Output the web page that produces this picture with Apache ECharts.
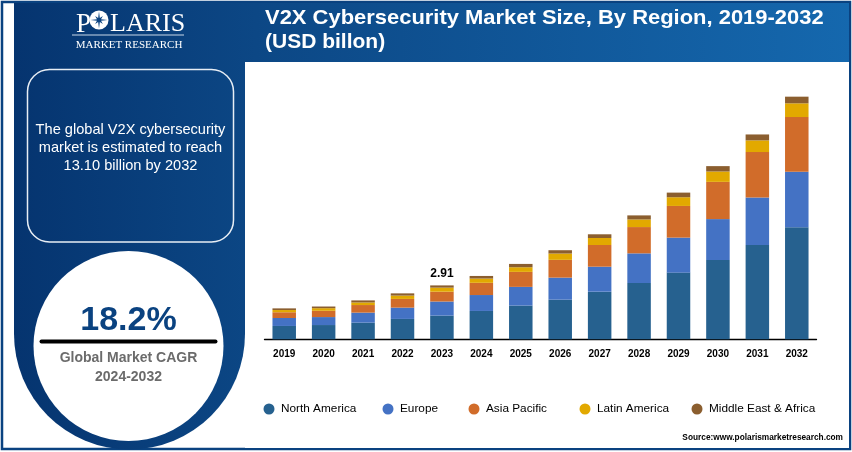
<!DOCTYPE html>
<html>
<head>
<meta charset="utf-8">
<style>
html, body { margin: 0; padding: 0; background: #fff; }
#main { width: 852px; height: 452px; }
</style>
<script src="https://cdn.jsdelivr.net/npm/echarts@6/dist/echarts.min.js"></script>
</head>
<body>
<div id="main"></div>
<script>
var years = ['2019', '2020', '2021', '2022', '2023', '2024', '2025', '2026', '2027', '2028', '2029', '2030', '2031', '2032'];
var northAmerica = [0.72, 0.77, 0.90, 1.10, 1.28, 1.53, 1.82, 2.14, 2.57, 3.04, 3.60, 4.28, 5.09, 6.05];
var europe = [0.43, 0.43, 0.54, 0.61, 0.76, 0.86, 1.01, 1.19, 1.35, 1.60, 1.89, 2.21, 2.57, 3.00];
var asiaPacific = [0.31, 0.34, 0.41, 0.47, 0.53, 0.66, 0.81, 0.96, 1.17, 1.42, 1.71, 2.01, 2.45, 2.95];
var latinAmerica = [0.12, 0.14, 0.14, 0.18, 0.22, 0.23, 0.25, 0.34, 0.38, 0.41, 0.47, 0.56, 0.63, 0.74];
var middleEast = [0.09, 0.09, 0.11, 0.12, 0.12, 0.14, 0.18, 0.18, 0.20, 0.22, 0.25, 0.29, 0.32, 0.36];
var seriesNames = ['North America', 'Europe', 'Asia Pacific', 'Latin America', 'Middle East & Africa'];
var seriesValues = [northAmerica, europe, asiaPacific, latinAmerica, middleEast];
var seriesColors = ['#26618f', '#4472c4', '#d16c2a', '#e2a900', '#8b5e2f'];
var legendLefts = [263.5, 382.5, 468.5, 579.5, 691.5];
var labelYear = '2023';
var labelText = '2.91';

var chart = echarts.init(document.getElementById('main'));
var LinearGradient = echarts.graphic.LinearGradient;
var sansFont = '"Liberation Sans", Arial, sans-serif';
var serifFont = '"Liberation Serif", "Times New Roman", serif';

// same left to right blue over the side panel and the header
var blue = new LinearGradient(0, 0, 852, 0, [
    { offset: 0, color: '#05336e' },
    { offset: 0.3, color: '#0c4785' },
    { offset: 1, color: '#1568ae' }
], true);

var series = [];
for (var i = 0; i < seriesNames.length; i++) {
    series.push({
        name: seriesNames[i],
        type: 'bar',
        stack: 'total',
        barWidth: 23.5,
        itemStyle: { color: seriesColors[i] },
        data: seriesValues[i].slice()
    });
}
// only one bar carries a total label
var labelIndex = years.indexOf(labelYear);
series[4].data[labelIndex] = {
    value: middleEast[labelIndex],
    label: {
        show: true,
        position: 'top',
        distance: 6,
        formatter: labelText,
        color: '#000',
        fontFamily: sansFont,
        fontWeight: 'bold',
        fontSize: 12
    }
};

var legends = [];
for (var j = 0; j < seriesNames.length; j++) {
    legends.push({
        data: [{ name: seriesNames[j], icon: 'circle' }],
        left: legendLefts[j],
        top: 403,
        itemWidth: 11,
        itemHeight: 11,
        itemGap: 0,
        selectedMode: false,
        padding: 0,
        textStyle: { color: '#000', fontFamily: sansFont, fontSize: 11.8, padding: [0, 0, 0, 1.5] }
    });
}

// compass star inside the logo O
var starPoints = [];
for (var k = 0; k < 16; k++) {
    var r = k % 4 == 0 ? 8.5 : (k % 2 == 0 ? 5.5 : 2.2);
    var a = k * Math.PI / 8;
    starPoints.push([99 + r * Math.sin(a), 20 - r * Math.cos(a)]);
}

var graphics = [
    // outer frame
    { type: 'rect', silent: true, z: -10, shape: { x: 2, y: 2, width: 848, height: 447 },
      style: { fill: '#fff', stroke: '#0a4280', lineWidth: 2.5 } },
    // header band
    { type: 'rect', silent: true, z: -9, shape: { x: 240, y: 3, width: 609, height: 59 }, style: { fill: blue } },
    // side panel with round bottom
    { type: 'rect', silent: true, z: -9, shape: { x: 14, y: 3, width: 231, height: 331 }, style: { fill: blue } },
    { type: 'circle', silent: true, z: -9, shape: { cx: 129.5, cy: 334, r: 115.5 }, style: { fill: blue } },
    // white circle
    { type: 'circle', silent: true, z: -8, shape: { cx: 128.5, cy: 346, r: 95 }, style: { fill: '#fff' } },
    // chart area
    { type: 'rect', silent: true, z: -8, shape: { x: 245, y: 62, width: 604, height: 386 }, style: { fill: '#fff' } },
    // text box
    { type: 'rect', silent: true, z: -7, shape: { x: 27.5, y: 69.5, width: 206, height: 172.5, r: 22 },
      style: { fill: 'transparent', stroke: '#e8eef5', lineWidth: 1.5 } },
    // logo
    { type: 'text', silent: true, style: { x: 76, y: 11, text: 'P', fill: '#fff', font: '27px ' + serifFont } },
    { type: 'circle', silent: true, shape: { cx: 99, cy: 20, r: 9.5 }, style: { fill: '#fff' } },
    { type: 'polygon', silent: true, z: 2, shape: { points: starPoints }, style: { fill: '#0a4280' } },
    { type: 'text', silent: true, style: { x: 110, y: 11, text: 'LARIS', fill: '#fff', font: '26px ' + serifFont } },
    { type: 'line', silent: true, shape: { x1: 72, y1: 35, x2: 184, y2: 35 }, style: { stroke: '#c9d8e8', lineWidth: 1 } },
    { type: 'text', silent: true, style: { x: 129, y: 40, text: 'MARKET RESEARCH', align: 'center', fill: '#fff', font: '11px ' + serifFont } },
    // header title, stretched a little to the width of the reference lettering
    { type: 'text', silent: true, originX: 265, originY: 0, scaleX: 1.045,
      style: { x: 265, y: 7.5, text: 'V2X Cybersecurity Market Size, By Region, 2019-2032', fill: '#fff', font: 'bold 21px ' + sansFont } },
    { type: 'text', silent: true, style: { x: 265, y: 32, text: '(USD billon)', fill: '#fff', font: 'bold 21px ' + sansFont } },
    // side panel text
    { type: 'text', silent: true, style: { x: 130.5, y: 122, text: 'The global V2X cybersecurity', align: 'center', fill: '#fff', font: '14.6px ' + sansFont } },
    { type: 'text', silent: true, style: { x: 130.5, y: 140, text: 'market is estimated to reach', align: 'center', fill: '#fff', font: '14.6px ' + sansFont } },
    { type: 'text', silent: true, style: { x: 130.5, y: 158, text: '13.10 billion by 2032', align: 'center', fill: '#fff', font: '14.6px ' + sansFont } },
    // CAGR block
    { type: 'text', silent: true, style: { x: 128.5, y: 304, text: '18.2%', align: 'center', fill: '#0a4280', font: 'bold 34px ' + sansFont } },
    { type: 'line', silent: true, shape: { x1: 41.5, y1: 341.5, x2: 215.5, y2: 341.5 }, style: { stroke: '#000', lineWidth: 4, lineCap: 'round' } },
    { type: 'text', silent: true, style: { x: 128.5, y: 351, text: 'Global Market CAGR', align: 'center', fill: '#6b6b6b', font: 'bold 14px ' + sansFont } },
    { type: 'text', silent: true, style: { x: 128.5, y: 370, text: '2024-2032', align: 'center', fill: '#6b6b6b', font: 'bold 14px ' + sansFont } },
    // source
    { type: 'text', silent: true, style: { x: 843, y: 434, text: 'Source:www.polarismarketresearch.com', align: 'right', fill: '#000', font: 'bold 8.3px ' + sansFont } }
];

chart.setOption({
    animation: false,
    backgroundColor: '#fff',
    grid: { left: 264.5, width: 552, top: 80, height: 259.3 },
    xAxis: {
        type: 'category',
        data: years,
        axisLine: { lineStyle: { color: '#000', width: 1.3 } },
        axisTick: { show: false },
        axisLabel: { color: '#000', fontFamily: sansFont, fontWeight: 'bold', fontSize: 10, margin: 10, interval: 0 }
    },
    yAxis: { type: 'value', min: 0, max: 14, show: false, splitLine: { show: false } },
    legend: legends,
    series: series,
    graphic: graphics
});
</script>
</body>
</html>
